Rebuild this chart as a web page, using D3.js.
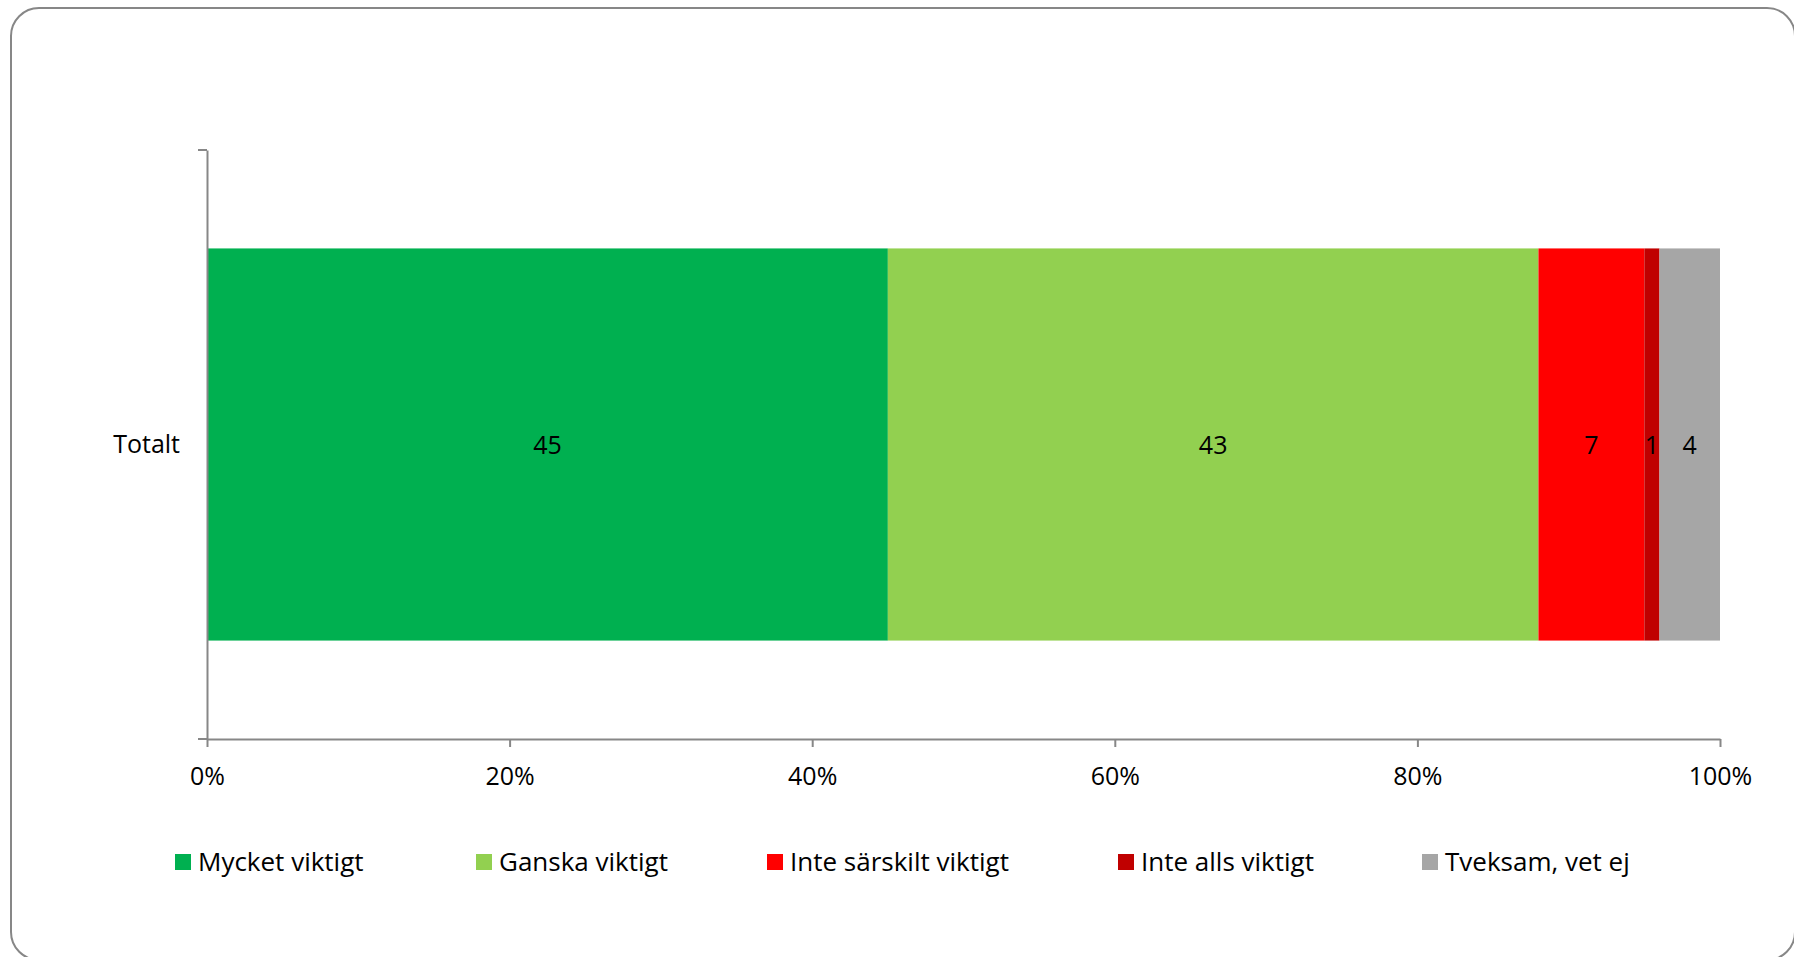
<!DOCTYPE html>
<html lang="sv">
  <head>
    <meta charset="utf-8">
    <title>Totalt</title>
    <style>
      body { margin: 0; background: #fff; }
      svg { display: block; font-family: "Open Sans", sans-serif; }
    </style>
  </head>
  <body>
  <script src="https://d3js.org/d3.v7.min.js"></script>

  <svg width="1794" height="957"></svg>

  <script type="text/javascript">

    // data
    var categories = ["Totalt"];
    var seriesNames = ["Mycket viktigt", "Ganska viktigt", "Inte särskilt viktigt", "Inte alls viktigt", "Tveksam, vet ej"];
    var seriesValues = [45, 43, 7, 1, 4];
    var tickValues = [0, 20, 40, 60, 80, 100];
    var colors = ["#00B050", "#92D050", "#FF0000", "#C00000", "#A6A6A6"];

    var svg = d3.select("svg");

    // outer rounded frame
    svg.append("rect")
       .attr("x", 11).attr("y", 8)
       .attr("width", 1784).attr("height", 952)
       .attr("rx", 28).attr("ry", 28)
       .attr("fill", "none")
       .attr("stroke", "#878787")
       .attr("stroke-width", 2);

    var plotLeft = 207, plotRight = 1720, plotTop = 150, plotBottom = 739;

    var x = d3.scaleLinear().domain([0, 100]).range([plotLeft, plotRight]);
    var y = d3.scaleBand().domain(categories).range([plotTop, plotBottom])
              .paddingInner(0).paddingOuter(0.251);

    // stack the values
    var stacked = [];
    var acc = 0;
    seriesValues.forEach(function (v, i) {
      stacked.push({name: seriesNames[i], value: v, x0: acc, x1: acc + v, color: colors[i]});
      acc += v;
    });

    var g = svg.append("g");

    g.selectAll("rect.seg")
     .data(stacked)
     .enter()
     .append("rect")
     .attr("class", "seg")
     .attr("x", function (d) { return x(d.x0); })
     .attr("width", function (d) { return x(d.x1) - x(d.x0); })
     .attr("y", y(categories[0]))
     .attr("height", y.bandwidth())
     .attr("fill", function (d) { return d.color; });

    g.selectAll("text.lbl")
     .data(stacked)
     .enter()
     .append("text")
     .attr("class", "lbl")
     .attr("x", function (d) { return (x(d.x0) + x(d.x1)) / 2; })
     .attr("y", y(categories[0]) + y.bandwidth() / 2)
     .attr("dy", "0.38em")
     .attr("text-anchor", "middle")
     .attr("font-size", 25)
     .attr("fill", "#000")
     .text(function (d) { return d.value; });

    // x axis
    var xAxis = svg.append("g")
       .attr("transform", "translate(0," + plotBottom + ")")
       .call(d3.axisBottom(x).tickValues(tickValues)
               .tickFormat(function (d) { return d + "%"; })
               .tickSize(8).tickSizeOuter(0).tickPadding(20));
    xAxis.select(".domain").attr("stroke", "#878787").attr("stroke-width", 2);
    xAxis.selectAll(".tick line").attr("stroke", "#878787").attr("stroke-width", 2);
    xAxis.selectAll("text").attr("font-size", 25).attr("font-family", "Open Sans").attr("fill", "#000");

    // y axis
    var yAxis = svg.append("g")
       .attr("transform", "translate(" + plotLeft + ",0)")
       .call(d3.axisLeft(y).tickSize(0).tickPadding(27));
    yAxis.select(".domain").attr("stroke", "#878787").attr("stroke-width", 2);
    yAxis.selectAll("text").attr("font-size", 25).attr("font-family", "Open Sans").attr("fill", "#000");

    // category boundary ticks
    yAxis.selectAll("line.edge")
       .data(y.range())
       .enter()
       .append("line")
       .attr("class", "edge")
       .attr("x1", -9).attr("x2", 0)
       .attr("y1", function (d) { return d; })
       .attr("y2", function (d) { return d; })
       .attr("stroke", "#878787")
       .attr("stroke-width", 2);

    // legend
    var legendX = [175, 476, 767, 1118, 1422];
    var legend = svg.append("g").attr("transform", "translate(0,862)");
    var items = legend.selectAll("g")
       .data(seriesNames)
       .enter()
       .append("g")
       .attr("transform", function (d, i) { return "translate(" + legendX[i] + ",0)"; });
    items.append("rect")
       .attr("x", 0).attr("y", -8)
       .attr("width", 16).attr("height", 16)
       .attr("fill", function (d, i) { return colors[i]; });
    items.append("text")
       .attr("x", 23).attr("y", 0).attr("dy", "0.35em")
       .attr("font-size", 26)
       .attr("fill", "#000")
       .text(function (d) { return d; });

  </script>

  </body>
</html>
